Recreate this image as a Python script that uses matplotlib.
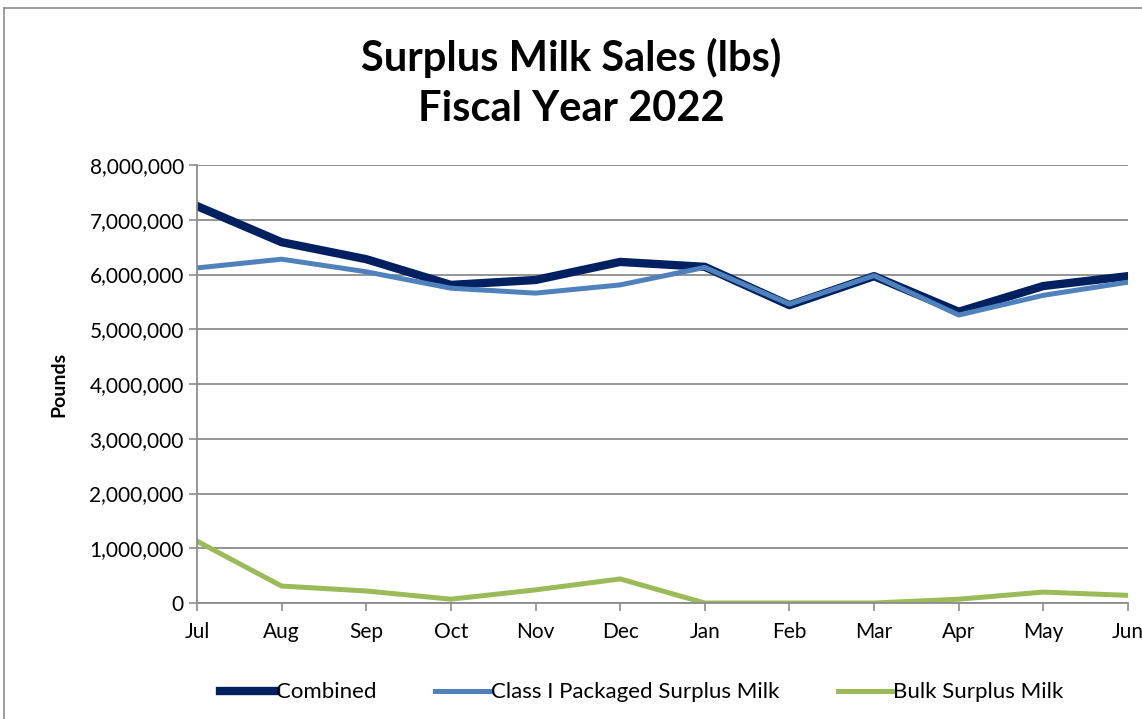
import matplotlib.pyplot as plt
from matplotlib.ticker import FuncFormatter
from matplotlib.lines import Line2D

months = ["Jul", "Aug", "Sep", "Oct", "Nov", "Dec", "Jan", "Feb", "Mar", "Apr", "May", "Jun"]

combined = [7250000, 6590000, 6280000, 5810000, 5900000, 6230000,
            6140000, 5440000, 5970000, 5320000, 5790000, 5970000]
class_i = [6120000, 6280000, 6050000, 5750000, 5660000, 5810000,
           6130000, 5460000, 5980000, 5260000, 5620000, 5860000]
bulk = [1130000, 310000, 220000, 70000, 240000, 440000,
        0, 0, 0, 70000, 200000, 140000]

yticks = list(range(0, 8000001, 1000000))

plt.rcParams['font.family'] = ['Lato', 'DejaVu Sans']

fig = plt.figure(figsize=(11.42, 7.19), dpi=100)
ax = fig.add_axes([0.1725, 0.1613, 0.8152, 0.6092])

x = list(range(len(months)))
ax.plot(x, combined, color="#002060", lw=6.0, label="Combined")
ax.plot(x, class_i, color="#4F81BD", lw=3.6, label="Class I Packaged Surplus Milk")
ax.plot(x, bulk, color="#9BBB59", lw=3.6, label="Bulk Surplus Milk")

ax.set_xlim(0, len(months) - 1)
ax.set_ylim(0, 8000000)
ax.set_xticks(x)
ax.set_xticklabels(months)
ax.set_yticks(yticks)
ax.yaxis.set_major_formatter(FuncFormatter(lambda v, p: f"{int(v):,}"))
ax.tick_params(axis="both", labelsize=15, colors="#8c8c8c", labelcolor="black", length=6, width=1.2)
ax.tick_params(axis="x", pad=8)
ax.grid(axis="y", color="#8c8c8c", lw=1.3)
ax.set_axisbelow(True)
for s in ["top", "right"]:
    ax.spines[s].set_visible(False)
for s in ["left", "bottom"]:
    ax.spines[s].set_color("#8c8c8c")
    ax.spines[s].set_linewidth(1.3)

ax.set_ylabel("Pounds", fontsize=14, fontweight="bold", labelpad=16)
fig.text(0.5, 0.885, "Surplus Milk Sales (lbs)\nFiscal Year 2022", ha="center", va="center",
         fontsize=30, fontweight="bold", linespacing=1.38)

fig.legend(loc="center", bbox_to_anchor=(0.562, 0.037), ncol=3, frameon=False,
           fontsize=16, handlelength=2.5, handletextpad=0.0, columnspacing=2.65)

# chart frame
fig.add_artist(Line2D([0.0035, 0.0035], [0, 0.989], transform=fig.transFigure, color="#8c8c8c", lw=1.2))
fig.add_artist(Line2D([0.0035, 1], [0.989, 0.989], transform=fig.transFigure, color="#8c8c8c", lw=1.2))

fig.savefig("out.png", dpi=100)
